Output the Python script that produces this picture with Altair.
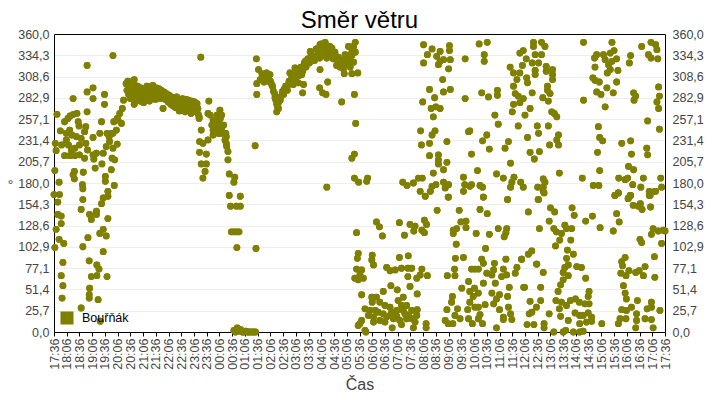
import json
import altair as alt
import pandas as pd

title_text = "Směr větru"
series_name = "Bouřňák"
x_title = "Čas"
y_title = "°"
olive = "#808000"
y_ticks = [0, 25.714, 51.429, 77.143, 102.857, 128.571, 154.286, 180, 205.714, 231.429, 257.143, 282.857, 308.571, 334.286, 360]
time_labels = ["17:36","18:06","18:36","19:06","19:36","20:06","20:36","21:06","21:36","22:06","22:36","23:06","23:36","00:06","00:36","01:06","01:36","02:06","02:36","03:06","03:36","04:06","04:36","05:06","05:36","06:06","06:36","07:06","07:36","08:06","08:36","09:06","09:36","10:06","10:36","11:06","11:36","12:06","12:36","13:06","13:36","14:06","14:36","15:06","15:36","16:06","16:36","17:06","17:36"]

# (minutes after 17:36, degrees)
evening = [(7,263),(3,228),(5,219),(2,195),(0,166),(13,166),(9,157),(12,181),(15,243),(25,254),(33,258),(38,261),(46,263),(54,264),(57,254),(59,249),(75,248),(72,242),(78,266),(78,290),(92,295),(78,322),(139,334),(92,282),(119,287),(119,275),(45,282),(112,254),(92,235),(108,240),(125,240),(135,240),(18,226),(29,240),(37,244),(42,238),(29,232),(34,226),(53,236),(64,234),(60,226),(75,228),(79,220),(49,222),(41,220),(25,213),(37,213),(49,213),(60,214),(72,210),(92,214),(100,216),(94,209),(116,216),(123,224),(131,230),(149,227),(139,222),(137,210),(143,208),(113,203),(97,198),(135,196),(48,194),(45,190),(48,185),(69,193),(121,188),(121,182),(142,177),(67,178),(68,173),(127,170),(127,164),(116,162),(112,155),(68,160),
(9,142),(17,140),(17,131),(5,124),(12,112),(23,107),(2,102),(21,84),(17,68),(21,56),(19,41),(64,148),(84,142),(100,146),(100,142),(88,136),(127,137),(116,124),(108,119),(123,116),(80,114),(68,103),(116,97),(83,86),(101,81),(106,76),(88,67),(101,68),(125,67),(84,53),(83,45),(83,41),(104,39),(64,29),(109,13),
(130,236),(139,240),(147,244),(141,254),(151,256),(155,264),(161,270),(164,280),(149,258),(159,252)]

first_crest = [(170,300),(172,292),(174,303),(176,287),(178,296),(180,282),(182,298),(184,290),(186,284),(188,304),(189,299),(191,293),(193,287),(195,281),(197,297),(199,290),(201,284),(203,279),(205,295),(207,288),(209,282),(211,277),(213,292),(215,286),(217,280),(219,297),(221,290),(223,284),(225,279),(227,296),(229,289),(231,283),(233,298),(235,292),(237,286),(239,281),(241,295),(243,288),(245,283),(247,294),(249,288),(251,282),(253,292),(255,287),(257,283),(259,290),(261,285),(263,281),(265,288),(267,283),(269,278),(271,286),(273,280),(275,275),(277,284),(279,278),(281,273),(283,281),(285,276),(287,271),(289,284),(291,278),(293,272),(295,267),(297,280),(299,274),(301,268),(303,282),(305,276),(307,270),(309,266),(311,281),(313,275),(315,269),(317,280),(319,274),(321,268),(323,264),(325,279),(327,272),(329,267),(331,278),(333,272),(335,266),(337,276),(339,270),(340,263),(342,258),
(257,270),(365,279),(346,332),(189,305),(189,275),(332,270),(342,260),(363,264),(375,256),(391,268),(395,262),(383,248),(391,240),(375,238),(363,232),(347,244),(343,230),(351,228),(343,217),(359,215),(347,203),(359,203),(356,194),(351,186),(406,236),(406,228),(410,218),(410,208),(413,191),(426,187),(424,181),(413,165),(439,164),
(368,262),(372,250),(375,244),(378,256),(381,248),(384,262),(387,240),(389,252),(392,258),(395,246),(398,240),(400,250),(403,232),(405,240),(407,224)]

night = [(416,152),(430,152),(439,152),(418,121),(424,121),(430,121),(436,121),(431,102),(476,101),(474,225),(424,2),(428,0),(432,5),(436,1),(440,3),(444,0),(448,0),(452,1),(456,0),(460,0),(465,0),(470,0),(475,0)]

second_crest = [(477,330),(482,317),(478,300),(478,287),(494,309),(501,313),(509,311),(486,305),(498,305),(505,303),(513,299),(517,291),(521,283),(525,275),(525,266),(529,270),(533,280),(541,287),(553,299),(560,307),(556,313),(568,319),(572,309),(584,311),(588,299),(586,289),(576,301),(564,299),(580,317),(592,327),(604,329),(604,339),(615,333),(623,343),(639,350),(627,347),(655,343),(651,337),(643,331),(627,317),(645,302),(626,295),(633,289),(641,287),(667,329),(678,325),(686,335),(698,335),(706,345),(710,350),(702,342),(698,327),(690,323),(678,278),(708,287),(711,252),(684,312),(702,312),(716,313),(694,345),(643,175),(708,215),(702,210),(708,186),(718,181),(737,182),(739,186),
(520,288),(523,280),(527,272),(530,278),(534,284),(538,290),(542,293),(546,297),(550,292),(554,303),(558,300),(562,306),(566,311),(570,304),(574,315),(578,310),(582,320),(586,315),(590,325),(594,320),(598,330),(602,325),(606,335),(610,330),(614,328),(618,342),(622,336),(626,331),(630,348),(634,340),(638,334),(642,345),(646,338),(650,345),(654,336),(658,330),(662,338),(666,322),(670,332),(674,320),(678,328),(682,318),(686,326),(690,333),(694,328),(698,320),(702,334),(706,326),(710,338),(500,306),(505,310),(510,303),(515,297),(490,312),(495,302)]

morning_high = [(822,181),(832,177),(847,180),(859,186),(868,186),(863,170),(875,164),(887,170),(891,176),(900,178),(918,181),(930,178),(922,174),(930,163),(894,192),(918,196),(906,214),(906,208),(906,203),(926,205),(885,213),(885,228),(866,226),(891,238),(898,243),(864,243),(926,230),(894,260),(889,270),(900,272),(910,270),(869,278),(897,283),(885,293),(918,290),(934,293),(916,305),(871,325),(930,318),(934,329),(906,323),(880,335),(891,342),(910,339),(932,346),(932,340),(871,347),(969,330),(969,282),(977,242),(965,170),(968,178),(965,187),(902,333),(918,329),(910,327)]

morning_low = [(713,120),(760,133),(767,127),(774,116),(814,132),(826,117),(839,130),(851,128),(848,122),(867,123),(873,120),(873,135),(878,130),(903,147),(929,163),(1012,163),(955,147),(1004,148),(1021,143),(1069,160),(959,133),(971,134),(971,126),(949,125),(941,119),(941,123),(995,119),(1026,118),(1047,125),(1067,125),(1061,115),(1065,120),(948,106),(1017,101),(946,89),(965,90),(814,90),(835,92),(717,95),(715,89),(750,93),(749,87),(753,81),(784,78),(792,74),(804,75),(819,77),(834,77),(843,77),(867,76),(834,67),(880,68),(863,69),(855,65),(713,76),(725,75),(709,65),(721,69),(729,65),(717,63),(776,49),(794,56),(809,51),(839,55),(856,46),(725,45),
(927,68),(945,68),(944,76),(992,76),(984,76),(1000,76),(1012,83),(1008,88),(1038,83),(1065,88),(1102,88),(1138,82),(1091,78),(1087,71),(1059,76),(1036,75),(1032,69),(1020,71),(1012,59),(977,61),(961,53),(991,53),(980,49),(1032,47),(1050,45),(1040,59),(1055,67),(1067,69),(1073,54),(1109,54),(1069,43),(1016,33),(1036,34),(1043,40),(1071,30),(939,43),(937,36),(926,27),(951,28),(945,20),(957,16),(922,14),(929,10),(940,10),(975,27),(980,36),(992,30),(1000,30),(988,43),(1000,47),(1004,21),(977,16),(986,10),(1010,10),(1000,16),(1050,27),(1059,18),(1076,22),(1079,15),(1059,15),(1043,5),
(735,0),(733,2),(717,8),(725,14),(721,10),(733,28),(741,20),(753,12),(753,18),(749,42),(760,42),(750,36),(768,36),(780,32),(792,30),(811,38),(823,42),(819,32),(831,32),(764,24),(776,22),(796,24),(808,26),(823,26),(843,26),(856,27),(768,14),(780,12),(800,16),(815,14),(831,16),(843,16),(855,20),(797,5),(819,9),(847,5),(877,10),(877,5),(784,18),(808,19),(745,26),(757,26),(792,20),(827,22),(835,20),(851,12)]

day_high = [(1002,348),(1021,350),(1014,335),(1014,327),(1008,289),(1024,284),(1045,292),(1045,286),(1039,262),(1047,251),(980,243),(1020,238),(1010,231),(1026,221),(984,215),(998,195),(1043,191),(1059,186),(984,178),(1004,177),(1010,175),(980,176),(1012,163),(1063,222),(1071,230),(1076,204),(1084,187),(1079,181),(1076,175),(1100,181),(1106,175),(1069,160),
(1130,350),(1130,345),(1149,350),(1157,345),(1106,340),(1098,337),(1134,335),(1149,335),(1113,330),(1127,325),(1142,325),(1075,320),(1104,322),(1134,316),(1134,311),(1083,313),(1091,305),(1098,313),(1114,307),(1116,301),(1083,297),(1160,321),(1160,315),(1175,317),(1175,311),(1175,305),(1163,297),(1163,292),(1169,288),(1127,289),(1087,288),(1094,285),(1106,282),(1152,283),(1165,279),(1083,275),(1098,277),(1122,270),(1080,266),(1110,262),(1173,266),(1179,264),(1185,260),(1094,249),(1139,249),(1165,249),(1116,235),(1142,240),(1189,238),(1185,232),(1189,226),(1168,226),(1122,217),(1144,218),(1132,209),(1191,192),(1153,185),(1157,181),(1153,175),(1140,175),(1142,160),(1155,168),
(1248,350),(1315,350),(1385,345),(1407,350),(1418,347),(1421,341),(1401,335),(1407,331),(1423,330),(1279,335),(1274,331),(1295,335),(1275,320),(1299,329),(1320,340),(1311,337),(1326,330),(1315,327),(1329,316),(1311,317),(1304,313),(1307,323),(1359,334),(1356,325),(1270,307),(1275,304),(1285,302),(1326,302),(1303,295),(1318,289),(1279,290),(1289,287),(1248,280),(1299,272),(1366,289),(1371,285),(1367,280),(1425,296),(1427,285),(1421,278),(1425,270),(1399,255),(1427,245),(1283,248),(1286,235),(1293,231),(1338,228),(1359,231),(1281,217),(1361,215),(1397,222),(1399,214),(1354,200),(1366,196),(1286,195),(1245,186),(1331,186),(1389,186),(1430,186),(1346,184),(1352,186),(1364,178),(1383,175),(1271,177),(1284,177),(1432,175),(1418,170),(1403,170),(1403,165),(1330,168),(1322,165),(1358,165),(1354,162)]

day_low = [(1118,145),(1141,160),(1153,170),(1170,150),(1180,145),(1221,150),(1226,141),(1269,140),(1253,134),(1287,126),(1318,122),(1332,133),(1326,143),(1167,134),(1144,125),(1178,125),(1184,121),(1196,119),(1192,111),(1204,129),(1208,125),(1220,125),(1218,111),(1182,104),(1210,99),(1224,94),(1126,98),(1118,94),(1102,88),(1137,82),(1153,72),(1208,89),(1212,81),(1232,79),(1243,78),(1204,78),(1200,72),(1212,68),(1253,65),(1200,63),(1194,57),(1188,49),(1107,54),(1147,54),(1183,38),(1196,36),(1208,32),(1191,28),(1122,37),(1147,38),(1137,30),(1126,24),(1120,22),(1167,22),(1194,19),(1212,14),(1115,9),(1131,9),(1155,10),(1155,5),(1178,0),(1200,0),(1206,2),(1224,0),(1239,0),(1247,1),
(1217,38),(1229,40),(1238,36),(1251,34),(1261,34),(1259,43),(1261,49),(1228,23),(1239,20),(1247,20),(1259,23),(1267,18),(1267,13),(1255,12),(1239,10),(1291,10),(1330,10),(1334,16),(1338,27),(1348,16),(1349,26),(1361,30),(1373,22),(1373,14),(1371,5),(1375,38),(1393,16),(1408,15),(1412,5),(1398,28),(1408,36),(1408,30),(1428,26),
(1342,56),(1346,47),(1349,40),(1338,85),(1346,90),(1340,80),(1336,71),(1348,68),(1355,74),(1371,72),(1379,74),(1389,68),(1393,79),(1416,66),(1415,91),(1381,112),(1385,108),(1432,107),(1408,118),(1412,125),(1424,122),(1436,123),(1440,122),(1322,165),(1330,168),(1353,161),(1359,165),(1365,153),(1377,152),(1386,148),(1382,155),(1406,151),(1405,165),(1416,170)]

rows = evening + first_crest + night + second_crest + morning_high + morning_low + day_high + day_low
df = pd.DataFrame(rows, columns=["minute", "deg"])
df["series"] = series_name

comma = "replace(format(datum.value,'.1f'),'.',',')"
font = "Liberation Sans"
x_scale = alt.Scale(domain=[0, 1440], nice=False, zero=False)
y_scale = alt.Scale(domain=[0, 360], nice=False)

left = alt.Axis(values=y_ticks, labelExpr=comma, title=y_title, titleAngle=0, titleFontSize=14, titleFont=font,
                titleFontWeight="normal", titleColor="#444444", titleX=-44, titleY=158, titleAlign="center",
                labelFont=font, labelFontSize=12.5, labelColor="#444444", tickSize=0, labelPadding=5,
                grid=True, gridColor="#eeeeee", gridWidth=1, domainColor="black", domainWidth=1)
right = alt.Axis(values=y_ticks, labelExpr=comma, title=None, orient="right", labelFont=font, labelFontSize=12.5,
                 labelColor="#444444", tickSize=0, labelPadding=7, grid=False, domainColor="black", domainWidth=1)
bottom = alt.Axis(values=[i * 30 for i in range(49)], labelExpr=json.dumps(time_labels) + "[round(datum.value/30)]",
                  labelAngle=-90, labelAlign="right", labelBaseline="middle", labelFont=font, labelFontSize=12.5,
                  labelColor="#444444", labelOverlap=False, tickSize=4, tickColor="black", domainColor="black",
                  grid=False, title=x_title, titleFont=font, titleFontSize=16, titleFontWeight="normal",
                  titleColor="#444444", titlePadding=7)
top = alt.Axis(orient="top", labels=False, ticks=False, grid=False, title=None, domainColor="black", domainWidth=1)

base = alt.Chart(df).mark_point(filled=True, shape="circle", size=46, opacity=1, clip=False)
layer_left = base.encode(
    x=alt.X("minute:Q", scale=x_scale, axis=bottom),
    y=alt.Y("deg:Q", scale=y_scale, axis=left),
    color=alt.Color("series:N", scale=alt.Scale(domain=[series_name], range=[olive]),
                    legend=alt.Legend(orient="none", legendX=6, legendY=277, title=None, symbolType="square",
                                      symbolSize=170, symbolOpacity=1, labelFont=font, labelFontSize=12.5,
                                      labelColor="black", labelOffset=8, padding=0, symbolStrokeWidth=0)),
)
layer_right = base.encode(
    x=alt.X("minute:Q", scale=x_scale, axis=top),
    y=alt.Y("deg:Q", scale=y_scale, axis=right),
    color=alt.Color("series:N", scale=alt.Scale(domain=[series_name], range=[olive]), legend=None),
)

chart = (
    alt.layer(layer_left, layer_right)
    .resolve_scale(x="independent", y="independent")
    .properties(
        width=611, height=298,
        title=alt.TitleParams(title_text, font=font, fontSize=24, fontWeight="normal", color="black", anchor="middle", offset=-5),
        padding={"left": 46, "top": 26, "right": 40, "bottom": 62},
        autosize=alt.AutoSizeParams(type="none"),
        background="white",
    )
    .configure_view(stroke=None)
)
chart.save("out.html", embed_options={"renderer": "svg", "actions": False})
